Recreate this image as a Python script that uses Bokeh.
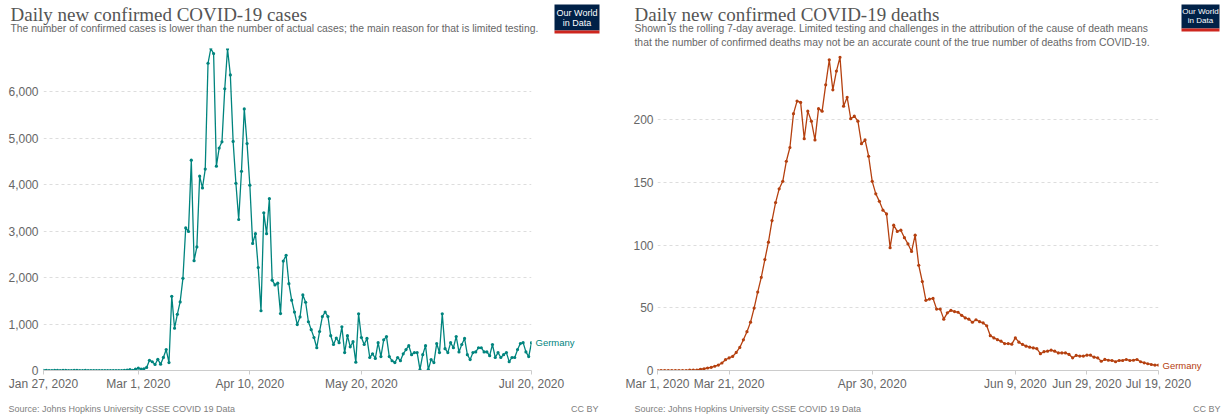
import pandas as pd
from bokeh.plotting import figure
from bokeh.models import (Range1d, FixedTicker, DatetimeTickFormatter, NumeralTickFormatter,
                          Label, BoxAnnotation, ColumnDataSource, LinearAxis)
from bokeh.layouts import row, column
from bokeh.embed import file_html
from bokeh.resources import INLINE

# ---------------- data ----------------
case_start = "2020-01-27"
cases = [
    # Jan 27-31
    1, 3, 0, 0, 1,
    # Feb
    2, 0, 2, 2, 0, 0, 1, 1, 0, 0, 2, 0, 0, 0, 0, 0, 0, 0, 0, 0,
    0, 0, 0, 0, 1, 10, 19, 2, 31,
    # Mar
    51, 29, 37, 66, 220, 188, 129, 241, 136, 281,
    451, 170, 1597, 910, 1210, 1477, 1985, 3070, 2993, 4528,
    2365, 2660, 4183, 3930, 4337, 6615, 6933, 6824, 4400, 4790, 4923,
    # Apr
    6064, 6922, 6365, 4933, 4031, 3251, 4289, 5633, 4885, 3990,
    2737, 2946, 2218, 1287, 3394, 2945, 3699, 1945, 1842, 1881,
    1226, 2357, 2481, 1870, 1514, 1257, 988, 1154, 1627, 1470,
    # May 1-19
    1050, 880, 710, 490, 840, 1160, 1260, 1160, 750, 560,
    700, 600, 940, 385, 750, 510, 620, 180, 1220,
    # May 20 - Jul 20
    710, 560, 690, 280, 360, 260, 600, 300, 660, 730,
    300, 210, 170, 280, 210, 360, 450, 535, 340, 385,
    385, 20, 340, 535, 20, 235, 170, 580, 385, 1220,
    470, 385, 600, 490, 730, 400, 560, 690, 340, 235,
    385, 400, 490, 490, 400, 400, 320, 560, 280, 385,
    280, 340, 385, 190, 280, 280, 450, 580, 600, 400,
    300, 600,
]

death_start = "2020-03-01"
deaths = [
    0, 0, 0, 0, 0, 0, 0, 0, 0, 0.3,
    0.3, 0.4, 1, 1.4, 2, 2.5, 3.4, 4.3, 6, 8.6,
    10, 11.2, 14.4, 18.4, 24.5, 31, 38.6, 49.8, 62.6, 74.4,
    88.5, 102.4, 119.7, 134, 145, 151, 167, 178, 205, 215,
    214, 185, 207, 199, 184, 209, 207, 228, 248, 224,
    239, 250, 211, 218, 201, 203, 199, 181, 184, 171,
    151, 141, 135, 128, 125, 98, 116, 111, 112, 106,
    101, 95, 108, 84, 71, 56, 57, 57.5, 49, 49,
    41, 46, 48, 47, 46.5, 44, 42, 41, 38.5, 40.5,
    39, 38, 35.7, 27.8, 26, 24.6, 23.4, 21.5, 21.5, 21,
    26, 22.6, 20.8, 19.4, 18.6, 18, 17.4, 13.4, 15, 15.4,
    16.2, 15.4, 14, 14, 14, 12.8, 10.1, 12, 11.5, 11.5,
    12.2, 12.2, 10.6, 10.1, 7.4, 8.8, 8.2, 8, 7, 8,
    8, 8.8, 8, 8.2, 8.8, 7, 6.1, 5.4, 4.8, 4.3,
    4.3,
]

case_xticks = ["2020-01-27", "2020-03-01", "2020-04-10", "2020-05-20", "2020-07-20"]
death_xticks = ["2020-03-01", "2020-03-21", "2020-04-30", "2020-06-09", "2020-06-29", "2020-07-19"]
case_yticks = [0, 1000, 2000, 3000, 4000, 5000, 6000]
death_yticks = [0, 50, 100, 150, 200]

entity = "Germany"
case_title = "Daily new confirmed COVID-19 cases"
case_subtitle = ["The number of confirmed cases is lower than the number of actual cases; the main reason for that is limited testing."]
death_title = "Daily new confirmed COVID-19 deaths"
death_subtitle = ["Shown is the rolling 7-day average. Limited testing and challenges in the attribution of the cause of death means",
                  "that the number of confirmed deaths may not be an accurate count of the true number of deaths from COVID-19."]
source_text = "Source: Johns Hopkins University CSSE COVID 19 Data"
license_text = "CC BY"
logo_lines = ["Our World", "in Data"]

SANS = "Liberation Sans"
SERIF = "Liberation Serif"
PAGE_W = 1224
HEAD_H = 48
FOOT_H = 21
CHART_H = 419 - HEAD_H - FOOT_H
PANEL_W = 612


def ms(d):
    return pd.Timestamp(d).value // 10**6


def blank(width, height):
    f = figure(width=width, height=height, x_range=Range1d(0, width), y_range=Range1d(height, 0),
               output_backend="svg", toolbar_location=None, min_border=0,
               min_border_left=0, min_border_right=0, min_border_top=0, min_border_bottom=0,
               x_axis_location=None, y_axis_location=None)
    f.outline_line_color = None
    f.grid.visible = False
    return f


def add_header(h, title, subtitle, tx, logo):
    lx0, lx1, ly0, ly1, lfs, ty = logo
    h.add_layout(Label(x=tx, y=13.5, text=title, text_font=SERIF, text_font_size="19px",
                       text_color="#555555", text_baseline="alphabetic", text_align="left"))
    for i, line in enumerate(subtitle):
        h.add_layout(Label(x=tx, y=28 + 14 * i, text=line, text_font=SANS, text_font_size="10.35px",
                           text_color="#666666", text_baseline="alphabetic", text_align="left"))
    h.add_layout(BoxAnnotation(left=lx0, right=lx1, top=ly0, bottom=ly1,
                               fill_color="#002147", fill_alpha=1, line_color=None))
    h.add_layout(BoxAnnotation(left=lx0, right=lx1, top=ly1, bottom=ly1 + 3,
                               fill_color="#ce261e", fill_alpha=1, line_color=None))
    for i, txt in enumerate(logo_lines):
        h.add_layout(Label(x=(lx0 + lx1) / 2, y=ty[i], text=txt, text_font=SANS,
                           text_font_size=lfs, text_color="white",
                           text_baseline="middle", text_align="center"))


def add_footer(f, sx, cx):
    f.add_layout(Label(x=sx, y=10, text=source_text, text_font=SANS, text_font_size="9px",
                       text_color="#808080", text_baseline="middle", text_align="left"))
    f.add_layout(Label(x=cx, y=10, text=license_text, text_font=SANS, text_font_size="9px",
                       text_color="#808080", text_baseline="middle", text_align="right"))


def chart(start, values, color, xticks, yticks, borders, standoff, headroom):
    dates = pd.date_range(start, periods=len(values), freq="D")
    src = ColumnDataSource(dict(date=dates, value=values))
    bl, br, bt, bb = borders
    p = figure(width=PANEL_W, height=CHART_H, x_axis_type="datetime",
               x_range=Range1d(dates[0].to_pydatetime(), dates[-1].to_pydatetime()),
               y_range=Range1d(0, max(values) * headroom),
               output_backend="svg", toolbar_location=None,
               min_border_left=bl, min_border_right=br, min_border_top=bt, min_border_bottom=bb)
    p.outline_line_color = None
    p.xgrid.visible = False
    p.ygrid.grid_line_color = "#dddddd"
    p.ygrid.grid_line_dash = "3 3"

    p.yaxis.ticker = FixedTicker(ticks=yticks)
    p.yaxis.formatter = NumeralTickFormatter(format="0,0")
    p.yaxis.axis_line_color = None
    p.yaxis.major_tick_line_color = None
    p.yaxis.minor_tick_line_color = None
    p.yaxis.major_tick_out = 0
    p.yaxis.major_tick_in = 0
    p.yaxis.minor_tick_out = 0
    p.yaxis.major_label_text_color = "#666666"
    p.yaxis.major_label_text_font = SANS
    p.yaxis.major_label_text_font_size = "12px"
    p.yaxis.major_label_standoff = standoff

    p.xaxis.ticker = FixedTicker(ticks=[ms(t) for t in xticks])
    fmt = "%b %-d, %Y"
    p.xaxis.formatter = DatetimeTickFormatter(days=fmt, months=fmt, years=fmt, hours=fmt,
                                              hourmin=fmt, minutes=fmt, context=None)
    p.xaxis.axis_line_color = "#cccccc"
    p.xaxis.major_tick_line_color = "#cccccc"
    p.xaxis.minor_tick_line_color = None
    p.xaxis.minor_tick_out = 0
    p.xaxis.major_tick_in = 0
    p.xaxis.major_tick_out = 4
    p.xaxis.major_label_standoff = 2
    p.xaxis.major_label_text_color = "#666666"
    p.xaxis.major_label_text_font = SANS
    p.xaxis.major_label_text_font_size = "12px"

    p.line(x="date", y="value", source=src, line_color=color, line_width=1.3)
    p.scatter(x="date", y="value", source=src, size=3.2, fill_color=color, line_color=None)

    # entity label at the end of the line, through a right-hand axis
    lab = LinearAxis(ticker=FixedTicker(ticks=[values[-1]]),
                     major_label_overrides={values[-1]: entity},
                     axis_line_color=None, major_tick_line_color=None, minor_tick_line_color=None,
                     major_tick_out=0, major_tick_in=0, minor_tick_out=0,
                     major_label_text_color=color, major_label_text_font=SANS,
                     major_label_text_font_size="9.5px", major_label_standoff=4)
    p.add_layout(lab, "right")
    return p


head = blank(PAGE_W, HEAD_H)
add_header(head, case_title, case_subtitle, 10, (554, 599, 4, 30, "9px", (12, 22)))
add_header(head, death_title, death_subtitle, 634, (1181, 1219, 4, 28, "8px", (11, 20)))

foot = blank(PAGE_W, FOOT_H)
add_footer(foot, 8, 598)
add_footer(foot, 634, 1220)

# both frames share the same top and bottom in the row; the deaths axis gets a little headroom
p1 = chart(case_start, cases, "#00847e", case_xticks, case_yticks, (43, 81, 0, 28), 5, 1.0)
p2 = chart(death_start, deaths, "#b5400f", death_xticks, death_yticks, (45, 66, 0, 28), 4, 1.028)

layout = column(head, row(p1, p2), foot)
open("out.html", "w").write(file_html(layout, INLINE))
